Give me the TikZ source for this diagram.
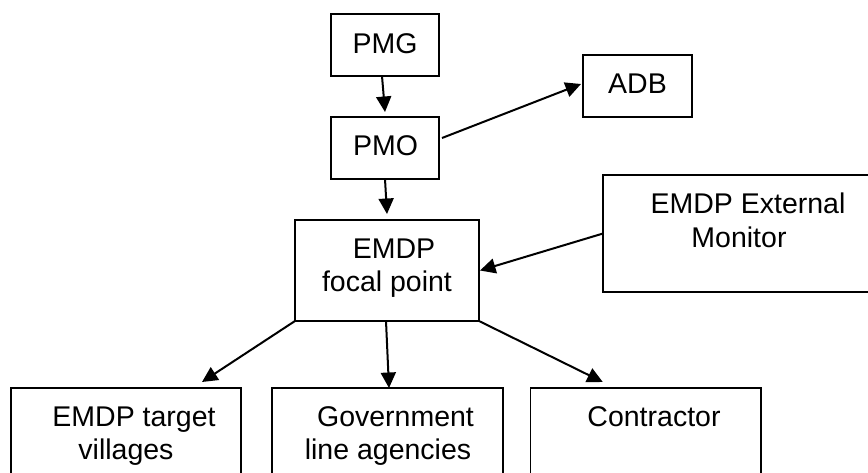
\documentclass[tikz,border=0pt]{standalone}
\usepackage{fontspec}
\setmainfont{Liberation Sans}
\usetikzlibrary{arrows.meta}
\begin{document}
\begin{tikzpicture}[x=1pt,y=-1pt,
  box/.style={draw=black,line width=1.7pt,fill=white,inner sep=0pt,outer sep=0pt,rectangle},
  txt/.style={inner sep=0pt,anchor=base,font=\fontsize{28.5}{33}\selectfont},
  arr/.style={draw=black,line width=2pt,-{Triangle[length=15.5pt,width=15pt]}}]
\clip (0,0) rectangle (868,472);
\fill[white] (0,0) rectangle (868,472);
% boxes
\node[box,minimum width=108pt,minimum height=62pt] (pmg) at (385,45) {};
\node[box,minimum width=108pt,minimum height=62pt] (pmo) at (385,148) {};
\node[box,minimum width=109pt,minimum height=62pt] (adb) at (637.5,86) {};
\node[box,minimum width=184pt,minimum height=101pt] (focal) at (387,270.5) {};
\node[box,minimum width=272pt,minimum height=117pt] (mon) at (739,233.5) {};
\node[box,minimum width=230pt,minimum height=100pt] (vil) at (126,438) {};
\node[box,minimum width=231pt,minimum height=100pt] (gov) at (387.5,438) {};
\node[box,minimum width=230.5pt,minimum height=100pt] (con) at (645.75,438) {};
% texts
\node[txt] (pmgt) at (385,53) {PMG};
\node[txt] (pmot) at (385.5,155) {PMO};
\node[txt] (adbt) at (637.5,93) {ADB};
\node[txt] (focalt1) at (394,258) {EMDP};
\node[txt] (focalt2) at (387,291) {focal point};
\node[txt] (mont1) at (748,213) {EMDP External};
\node[txt] (mont2) at (739,247) {Monitor};
\node[txt] (vilt1) at (134,426) {EMDP target};
\node[txt] (vilt2) at (126,459) {villages};
\node[txt] (govt1) at (395.5,426) {Government};
\node[txt] (govt2) at (388,459) {line agencies};
\node[txt] (cont) at (654,426) {Contractor};
% connectors
\draw[arr] ([xshift=-3pt]pmg.south) -- ([yshift=5pt]pmo.north);
\draw[arr] ([xshift=3pt,yshift=10pt]pmo.east) -- ([xshift=-2pt,yshift=2pt]adb.west);
\draw[arr] (pmo.south) -- ([yshift=6pt]focal.north);
\draw[arr] (mon.west) -- ([xshift=1pt]focal.east);
\draw[arr] (focal.south west) -- ([xshift=76pt,yshift=6pt]vil.north);
\draw[arr] ([xshift=-1pt]focal.south) -- ([xshift=1.5pt]gov.north);
\draw[arr] (focal.south east) -- ([xshift=-43pt,yshift=6pt]con.north);
\end{tikzpicture}
\end{document}
